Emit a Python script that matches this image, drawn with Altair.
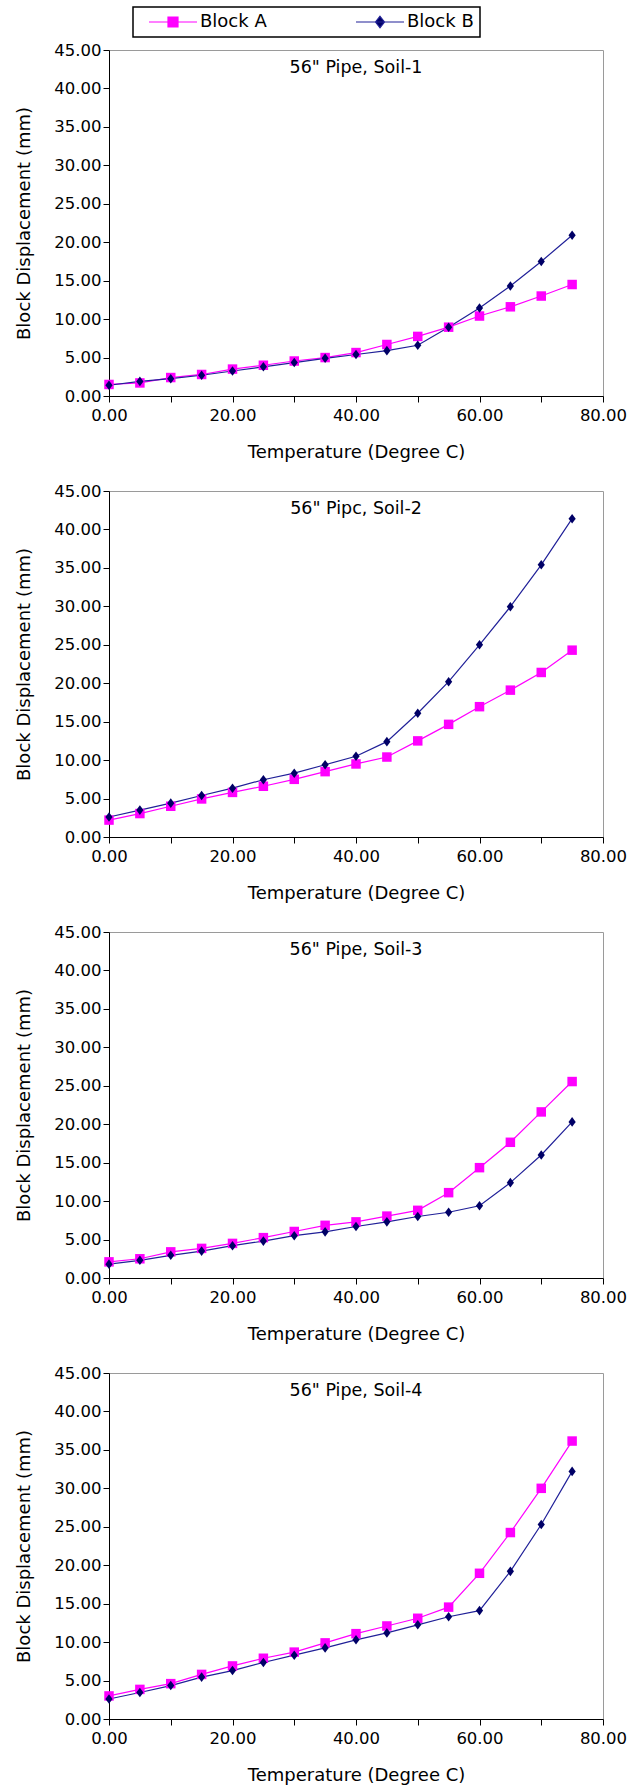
import altair as alt
import pandas as pd

temps = [0, 5, 10, 15, 20, 25, 30, 35, 40, 45, 50, 55, 60, 65, 70, 75]
series_names = ["Block A", "Block B"]
panel_titles = ['56" Pipe, Soil-1', '56" Pipc, Soil-2', '56" Pipe, Soil-3', '56" Pipe, Soil-4']

soil1_a = [1.5, 1.7, 2.4, 2.8, 3.5, 4.0, 4.55, 5.0, 5.65, 6.7, 7.75, 8.95, 10.4, 11.6, 13.0, 14.5]
soil1_b = [1.4, 1.9, 2.25, 2.7, 3.25, 3.8, 4.35, 4.9, 5.4, 5.9, 6.6, 8.95, 11.45, 14.3, 17.5, 20.9]
soil2_a = [2.2, 3.05, 4.0, 4.95, 5.8, 6.6, 7.5, 8.5, 9.5, 10.4, 12.5, 14.65, 16.95, 19.1, 21.4, 24.3]
soil2_b = [2.6, 3.5, 4.4, 5.4, 6.35, 7.45, 8.3, 9.4, 10.5, 12.4, 16.1, 20.2, 25.0, 29.95, 35.4, 41.4]
soil3_a = [2.1, 2.5, 3.4, 3.85, 4.5, 5.25, 6.05, 6.85, 7.3, 8.05, 8.8, 11.1, 14.35, 17.65, 21.6, 25.55]
soil3_b = [1.8, 2.3, 2.95, 3.5, 4.2, 4.8, 5.5, 6.0, 6.7, 7.3, 8.0, 8.55, 9.4, 12.4, 16.0, 20.3]
soil4_a = [3.0, 3.85, 4.6, 5.8, 6.9, 7.9, 8.7, 9.9, 11.1, 12.1, 13.1, 14.55, 18.95, 24.25, 30.0, 36.15]
soil4_b = [2.6, 3.45, 4.35, 5.45, 6.3, 7.35, 8.3, 9.25, 10.3, 11.2, 12.25, 13.3, 14.1, 19.2, 25.3, 32.2]

panels = [(soil1_a, soil1_b), (soil2_a, soil2_b), (soil3_a, soil3_b), (soil4_a, soil4_b)]

x_ticks = [0, 10, 20, 30, 40, 50, 60, 70, 80]
y_ticks = [0, 5, 10, 15, 20, 25, 30, 35, 40, 45]

COL_A = "#ff00ff"
COL_B_LINE = "#202098"
COL_B_MARK = "#000066"
FONT = "DejaVu Sans"

PATH_A = "M-4.8,0H4.8M-1,-1H1V1H-1Z"
PATH_B = "M-4.8,0H4.8M0,-1.15L0.9,0L0,1.15L-0.9,0Z"
DIAMOND = "M0,-1.2L0.9,0L0,1.2L-0.9,0Z"

fill_scale = alt.Scale(domain=series_names, range=[COL_A, COL_B_MARK])
stroke_scale = alt.Scale(domain=series_names, range=[COL_A, COL_B_LINE])
legend_shape_scale = alt.Scale(domain=series_names, range=[PATH_A, PATH_B])

x_enc = alt.X(
    "temp:Q",
    scale=alt.Scale(domain=[0, 80], nice=False),
    axis=alt.Axis(
        values=x_ticks,
        labelExpr="datum.value % 20 == 0 ? format(datum.value, '.2f') : ''",
        labelFlush=False,
        labelOverlap=False,
        title="Temperature (Degree C)",
    ),
)
y_enc = alt.Y(
    "disp:Q",
    scale=alt.Scale(domain=[0, 45], nice=False),
    axis=alt.Axis(
        values=y_ticks,
        format=".2f",
        labelFlush=False,
        labelOverlap=False,
        title="Block Displacement (mm)",
    ),
)

legend_spec = alt.Legend(
    title=None,
    orient="none",
    legendX=24,
    legendY=-43,
    direction="horizontal",
    strokeColor="black",
    fillColor="white",
    padding=6,
    symbolSize=100,
    symbolOffset=25,
    symbolOpacity=1,
    symbolStrokeWidth=1.2,
    labelOffset=18,
    columnPadding=79,
    labelFont=FONT,
    labelFontSize=18,
    labelColor="black",
)


def make_panel(i):
    a_vals, b_vals = panels[i]
    df = pd.DataFrame(
        {
            "temp": temps + temps,
            "disp": a_vals + b_vals,
            "series": [series_names[0]] * len(temps) + [series_names[1]] * len(temps),
        }
    )
    base = alt.Chart(df)
    only_a = base.transform_filter(alt.datum.series == series_names[0])
    only_b = base.transform_filter(alt.datum.series == series_names[1])
    line_a = only_a.mark_line(strokeWidth=1.2, color=COL_A).encode(x=x_enc, y=y_enc)
    line_b = only_b.mark_line(strokeWidth=1.2, color=COL_B_LINE).encode(x=x_enc, y=y_enc)
    pts_a = only_a.mark_square(size=90, color=COL_A, opacity=1).encode(x=x_enc, y=y_enc)
    pts_b = only_b.mark_point(shape=DIAMOND, size=64, filled=True, color=COL_B_MARK, opacity=1).encode(
        x=x_enc, y=y_enc
    )
    tdf = pd.DataFrame({"t": [panel_titles[i]], "temp": [40], "disp": [42.6]})
    title = alt.Chart(tdf).mark_text(font=FONT, fontSize=17.5, color="black", baseline="middle").encode(
        x=x_enc, y=y_enc, text="t:N"
    )
    layers = [line_a, line_b, pts_a, pts_b, title]
    if i == 0:
        leg = base.mark_point(filled=True, opacity=0).encode(
            x=x_enc,
            y=y_enc,
            fill=alt.Fill("series:N", scale=fill_scale, legend=legend_spec),
            stroke=alt.Stroke("series:N", scale=stroke_scale, legend=legend_spec),
            shape=alt.Shape("series:N", scale=legend_shape_scale, legend=legend_spec),
        )
        layers.append(leg)
    return alt.layer(*layers).properties(width=494, height=346)


chart = (
    alt.vconcat(*[make_panel(i) for i in range(4)], spacing=95, bounds="flush")
    .resolve_scale(fill="independent", stroke="independent", shape="independent")
    .resolve_legend(fill="independent", stroke="independent", shape="independent")
    .properties(padding={"left": 15, "top": 5, "right": 5, "bottom": 5}, background="white")
    .configure_view(stroke="#9a9a9a", strokeWidth=1)
    .configure_legend(strokeWidth=1.5)
    .configure_axis(
        grid=False,
        domainColor="black",
        domainWidth=1,
        tickColor="black",
        tickSize=6,
        labelFont=FONT,
        labelFontSize=16.5,
        labelColor="black",
        titleFont=FONT,
        titleFontSize=18,
        titleFontWeight="normal",
        titleColor="black",
    )
    .configure_axisX(labelPadding=5, titlePadding=20)
    .configure_axisY(labelPadding=2, titlePadding=20)
)

chart.save("out.html", embed_options={"renderer": "svg", "actions": False})
